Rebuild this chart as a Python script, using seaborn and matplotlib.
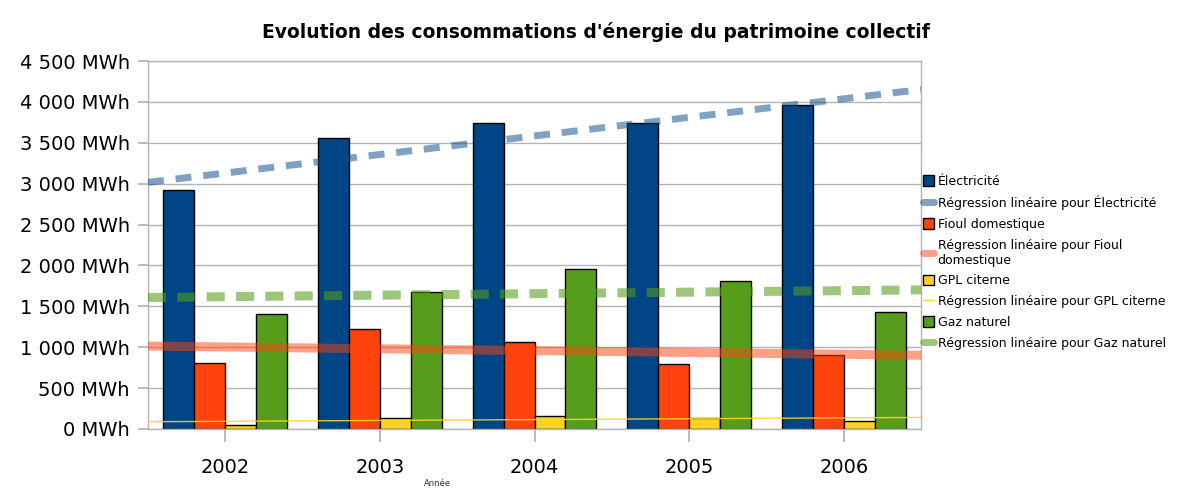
import numpy as np
import pandas as pd
import matplotlib.pyplot as plt
import matplotlib.ticker as mticker
from matplotlib.patches import Patch
from matplotlib.lines import Line2D
import seaborn as sns

# Données (MWh)
annees = ['2002', '2003', '2004', '2005', '2006']
electricite = [2920, 3555, 3740, 3745, 3960]
fioul = [805, 1220, 1065, 795, 905]
gpl = [50, 130, 160, 135, 100]
gaz = [1405, 1675, 1955, 1810, 1430]

series = ['Électricité', 'Fioul domestique', 'GPL citerne', 'Gaz naturel']
couleurs = ['#004586', '#ff420e', '#ffd320', '#579d1c']

df = pd.DataFrame({'Année': annees, 'Électricité': electricite,
                   'Fioul domestique': fioul, 'GPL citerne': gpl,
                   'Gaz naturel': gaz})
df_plot = df.melt(id_vars='Année', var_name='Énergie', value_name='MWh')

sns.set_theme(style='white')
plt.rcParams['font.family'] = ['DejaVu Sans']
plt.rcParams['text.color'] = 'black'
plt.rcParams['xtick.color'] = 'black'
plt.rcParams['ytick.color'] = 'black'

fig = plt.figure(figsize=(11.81, 4.9), dpi=100)
ax = fig.add_axes([0.1253, 0.1245, 0.6546, 0.751])

sns.barplot(data=df_plot, x='Année', y='MWh', hue='Énergie', hue_order=series,
            palette=couleurs, width=0.8, edgecolor='black', linewidth=1,
            saturation=1, ax=ax, legend=False)

ax.set_xlim(-0.5, 4.5)
ax.set_ylim(0, 4500)

# droites de régression linéaire
styles_reg = {
    'Électricité': dict(color='#004586', lw=5, ls=(0, (2.3, 1.7)), alpha=0.5),
    'Fioul domestique': dict(color='#ff420e', lw=6.5, ls='-', alpha=0.5),
    'GPL citerne': dict(color='#ffd320', lw=1.0, ls='-', alpha=0.9),
    'Gaz naturel': dict(color='#579d1c', lw=6.5, ls=(0, (2.0, 1.25)), alpha=0.58),
}
xs = np.arange(len(annees))
xx = np.array([-0.5, 4.5])
for nom in series:
    a, b = np.polyfit(xs, df[nom].values, 1)
    ax.plot(xx, a * xx + b, zorder=5, solid_capstyle='butt',
            dash_capstyle='butt', **styles_reg[nom])

# axes
gris = '#b3b3b3'
ax.yaxis.set_major_locator(mticker.MultipleLocator(500))
ax.yaxis.set_major_formatter(mticker.FuncFormatter(
    lambda v, p: f'{int(v):,} MWh'.replace(',', ' ')))
ax.grid(axis='y', color=gris, lw=1)
ax.set_axisbelow(True)
for s in ax.spines.values():
    s.set_color(gris)
    s.set_linewidth(1)
ax.tick_params(axis='y', length=7, color=gris, labelcolor='black',
               labelsize=14, pad=6, left=True)
ax.tick_params(axis='x', length=9, color=gris, labelcolor='black',
               labelsize=14, pad=12, bottom=True)
ax.set_xlabel('')
ax.set_ylabel('')

fig.suptitle("Evolution des consommations d'énergie du patrimoine collectif",
             x=0.505, y=0.955, fontsize=13.5, fontweight='bold', color='black')
fig.text(0.370, 0.014, 'Année', fontsize=6, ha='center', va='center', color='#333333')

# légende
poignees = []
etiquettes = []
for nom, c in zip(series, couleurs):
    poignees.append(Patch(facecolor=c, edgecolor='black', lw=1))
    etiquettes.append(nom)
    st = styles_reg[nom]
    poignees.append(Line2D([0], [0], color=st['color'], lw=min(st['lw'], 5),
                           alpha=st['alpha']))
    lab = 'Régression linéaire pour ' + nom
    if nom == 'Fioul domestique':
        lab = 'Régression linéaire pour Fioul\ndomestique'
    etiquettes.append(lab)

fig.legend(poignees, etiquettes, loc='center left', bbox_to_anchor=(0.777, 0.465),
           frameon=False, fontsize=9, handlelength=0.9, handleheight=0.9,
           handletextpad=0.3, labelspacing=0.62, borderaxespad=0)

plt.savefig('out.png', dpi=100)
